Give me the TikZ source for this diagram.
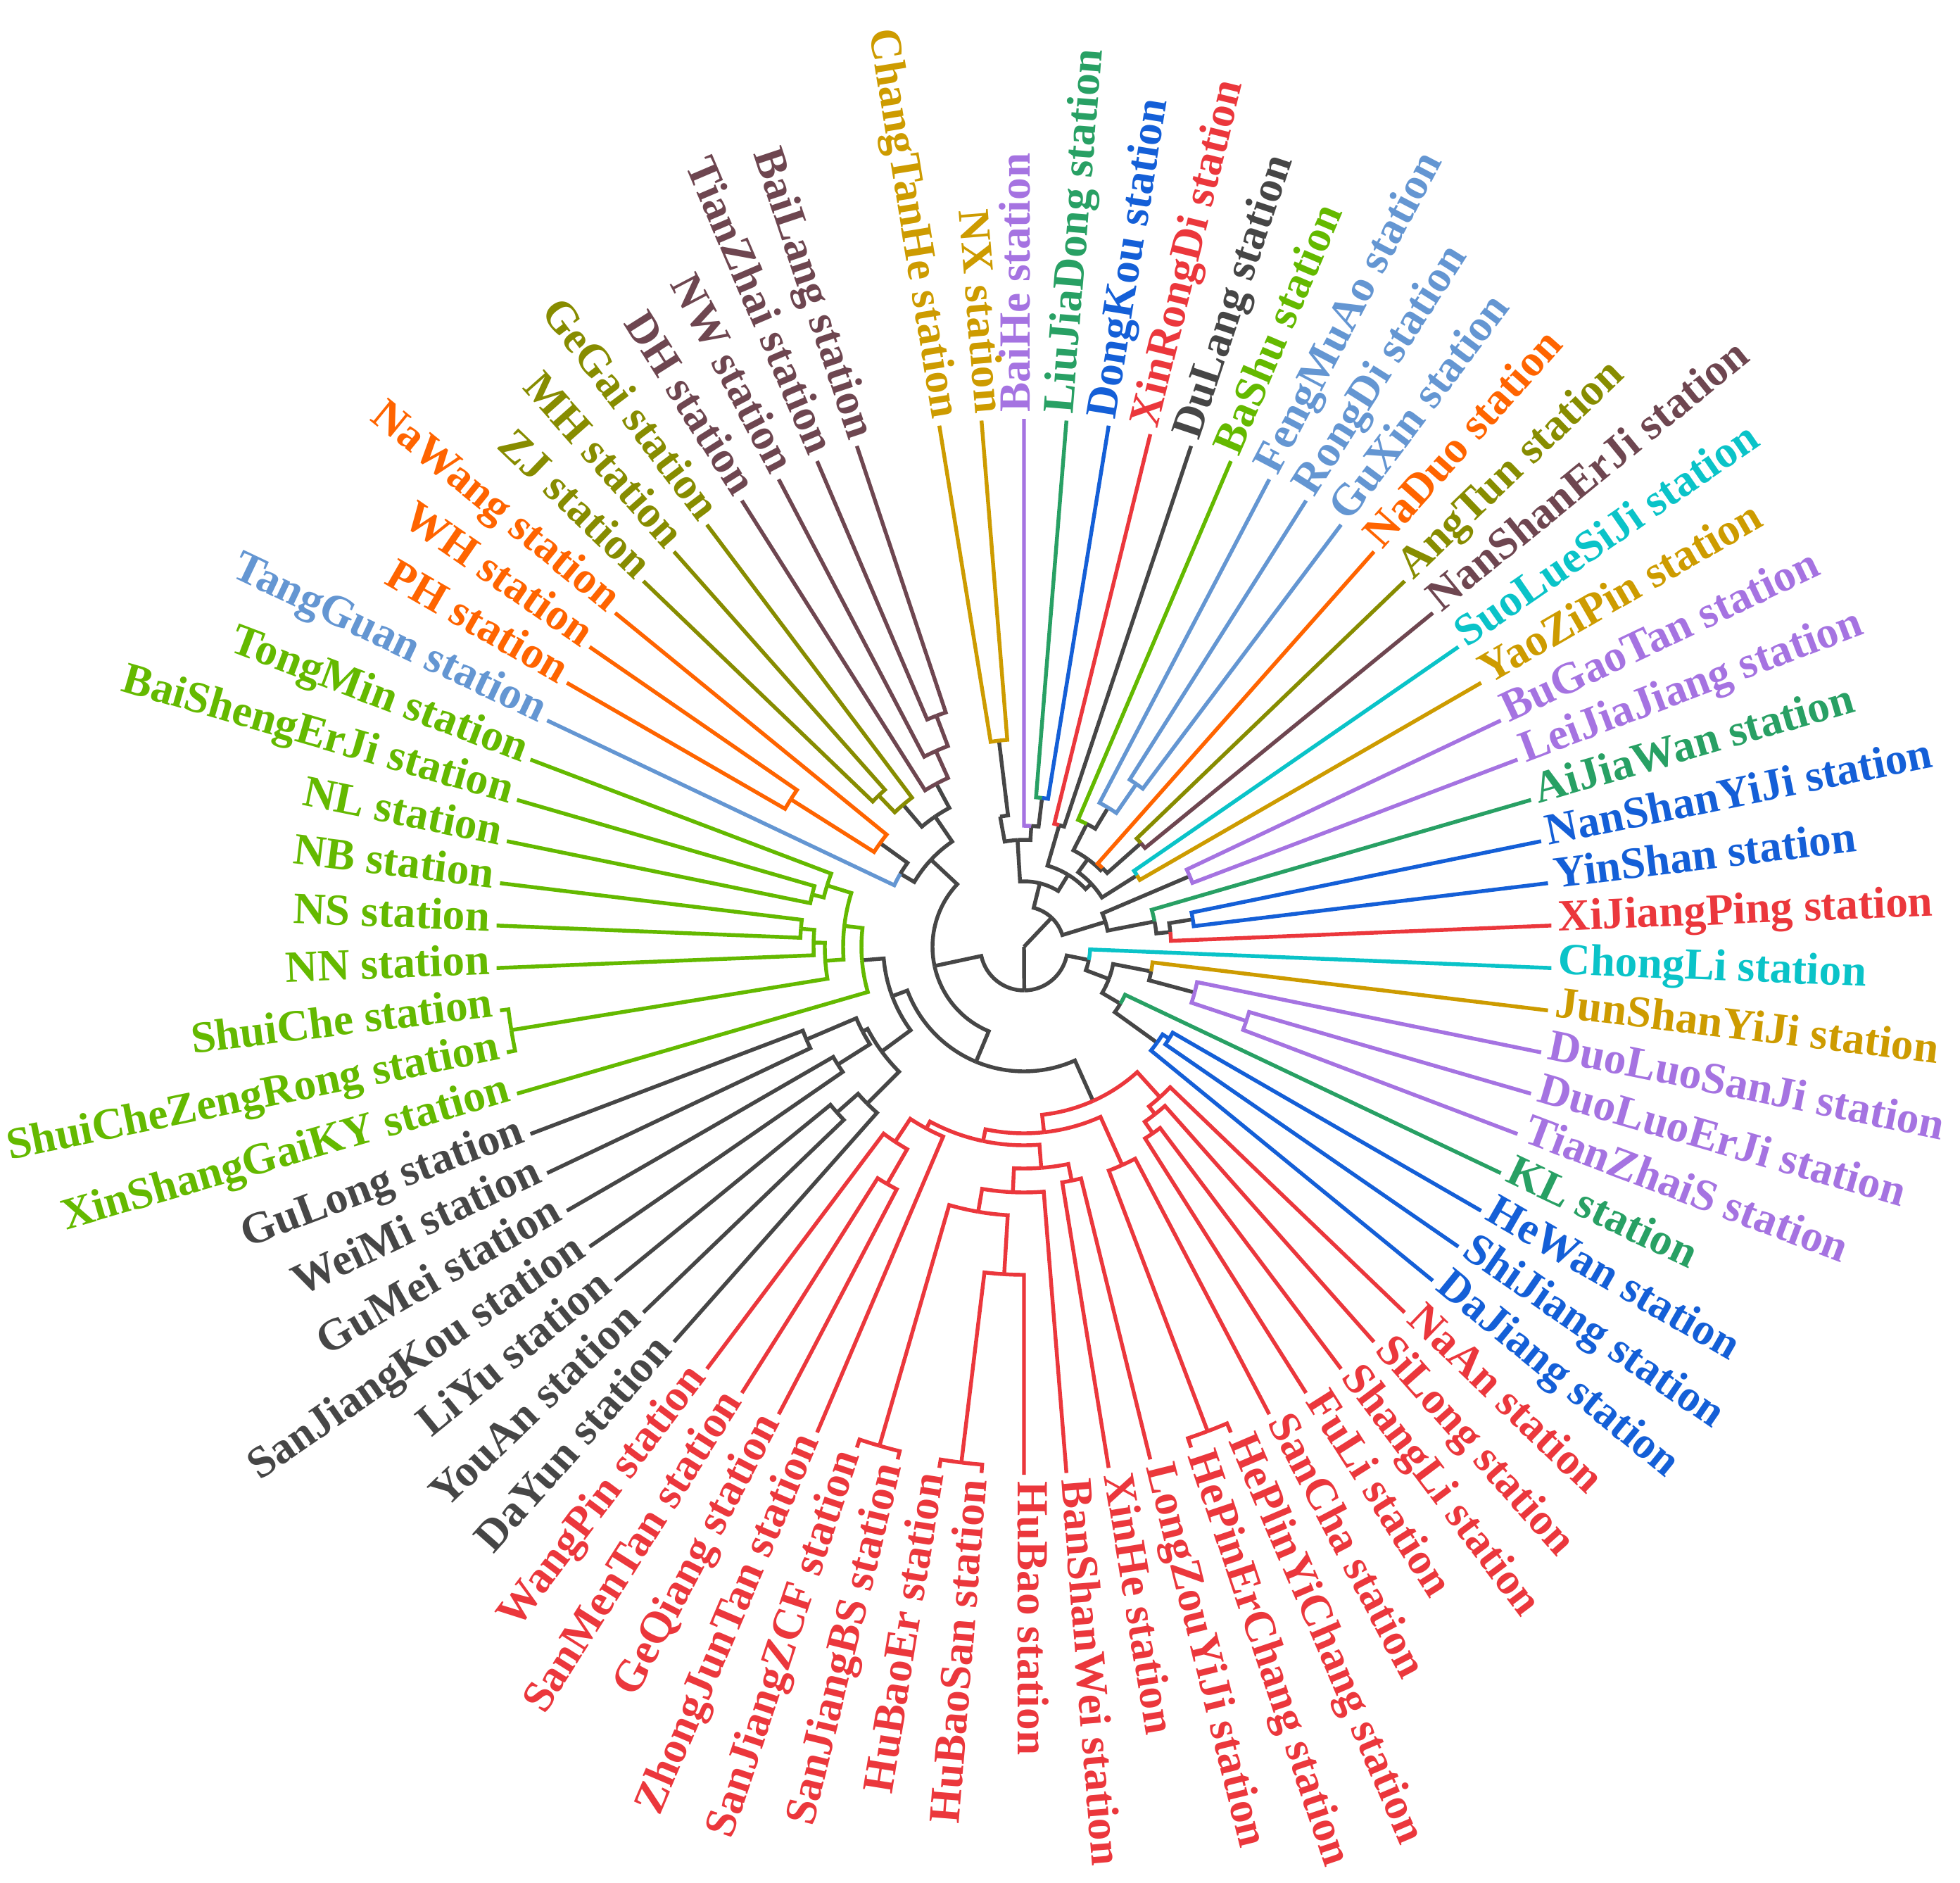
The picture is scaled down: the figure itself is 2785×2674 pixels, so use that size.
\documentclass[tikz,border=0pt]{standalone}
\usepackage{fontspec}
\setmainfont{Liberation Serif}
\definecolor{cg}{RGB}{70,70,70}
\definecolor{cgold}{RGB}{205,155,0}
\definecolor{cpurple}{RGB}{165,115,225}
\definecolor{cgreen}{RGB}{40,160,100}
\definecolor{cblue}{RGB}{20,95,215}
\definecolor{cred}{RGB}{235,55,60}
\definecolor{clime}{RGB}{100,185,0}
\definecolor{clb}{RGB}{100,150,210}
\definecolor{corange}{RGB}{255,100,0}
\definecolor{colive}{RGB}{135,140,0}
\definecolor{cbrown}{RGB}{110,70,80}
\definecolor{ccyan}{RGB}{10,195,200}
\newcommand\LA[2]{\pgfmathsetmacro#1{99.23-(#2-1)*4.61538}}
\newcommand\MA[3]{\pgfmathsetmacro#1{(#2+#3)/2}}
\newcommand\E[5]{\draw[#5] (#1:#2) -- (#1:#4) arc[start angle=#1, end angle=#3, radius=#4];}
\newcommand\lbl[4]{%
  \pgfmathsetmacro\tmpc{cos(#1)}%
  \ifdim\tmpc pt>-0.01pt
    \node[lab,text=#2,anchor=mid west,rotate=#1] (#4) at (#1:757) {#3 station};
  \else
    \pgfmathsetmacro\tmpr{#1+180}%
    \node[lab,text=#2,anchor=mid east,rotate=\tmpr] (#4) at (#1:757) {#3 station};
  \fi}
\begin{document}
\begin{tikzpicture}[x=0.01cm,y=0.01cm,line width=1.55pt,
  lab/.style={font=\bfseries\fontsize{18}{20}\selectfont,inner sep=0pt}]
\useasboundingbox (-1455,-1329) rectangle (1330,1345);
% leaf angles
\LA\lCTH{1}\LA\lNX{2}\LA\lBH{3}\LA\lLJD{4}\LA\lDK{5}\LA\lXRD{6}\LA\lDL{7}\LA\lBS{8}
\LA\lFMA{9}\LA\lRD{10}\LA\lGX{11}\LA\lND{12}\LA\lAT{13}\LA\lNSE{14}\LA\lSL{15}\LA\lYZP{16}
\LA\lBGT{17}\LA\lLJJ{18}\LA\lAJW{19}\LA\lNSY{20}\LA\lYS{21}\LA\lXJP{22}\LA\lCL{23}\LA\lJSY{24}
\LA\lDLS{25}\LA\lDLE{26}\LA\lTZS{27}\LA\lKL{28}\LA\lHW{29}\LA\lSJ{30}\LA\lDJ{31}\LA\lNA{32}
\LA\lSIL{33}\LA\lSHL{34}\LA\lFL{35}\LA\lSC{36}\LA\lHPY{37}\LA\lHPE{38}\LA\lLZ{39}\LA\lXH{40}
\LA\lBSW{41}\LA\lHB{42}\LA\lHBS{43}\LA\lHBE{44}\LA\lSJB{45}\LA\lSJZ{46}\LA\lZJT{47}\LA\lGQ{48}
\LA\lSMT{49}\LA\lWP{50}\LA\lDY{51}\LA\lYA{52}\LA\lLY{53}\LA\lSJK{54}\LA\lGM{55}\LA\lWM{56}
\LA\lGL{57}\LA\lXSG{58}\LA\lSCZ{59}\LA\lSCH{60}\LA\lNN{61}\LA\lNS{62}\LA\lNB{63}\LA\lNL{64}
\LA\lBSE{65}\LA\lTM{66}\LA\lTG{67}\LA\lPH{68}\LA\lWH{69}\LA\lNWa{70}\LA\lZJ{71}\LA\lMH{72}
\LA\lGG{73}\LA\lDH{74}\LA\lNWs{75}\LA\lTZ{76}\LA\lBL{77}\LA\lHid{0}
% internal node angles
\MA\nG\lCTH\lNX \MA\nH\nG\lHid \MA\nLD\lLJD\lDK \MA\nQ\lBH\nLD \MA\nP\nH\nQ
\MA\nXD\lXRD\lDL \MA\nRG\lRD\lGX \MA\nFRG\lFMA\nRG \MA\nBF\lBS\nFRG
\MA\nAN\lAT\lNSE \MA\nNAD\lND\nAN \MA\nYY\nBF\nNAD \MA\nSY\lSL\lYZP
\MA\nZ\nYY\nSY \MA\nBx\nXD\nZ \MA\nBa\nP\nBx
\MA\nPL\lBGT\lLJJ \MA\nNY\lNSY\lYS \MA\nWb\nNY\lXJP \MA\nWa\lAJW\nWb \MA\nBb\nPL\nWa
\MA\nB\nBa\nBb
\MA\nDT\lDLE\lTZS \MA\nDU\lDLS\nDT \MA\nRc\lJSY\nDU \MA\nHS\lHW\lSJ \MA\nRe\nHS\lDJ
\MA\nRd\lKL\nRe \MA\nRb\nRc\nRd \MA\nRa\lCL\nRb
\MA\nNa\lTZ\lBL \MA\nNb\lNWs\nNa \MA\nNc\lDH\nNb \MA\nOa\lZJ\lMH \MA\nOb\nOa\lGG
\MA\nNd\nOb\nNc \MA\nOra\lPH\lWH \MA\nOrb\nOra\lNWa \MA\nT\lTG\nOrb \MA\nNe\nT\nNd
\MA\nBN\lBSE\lNL \MA\nTB\lTM\nBN \MA\nNBS\lNB\lNS \MA\nNBSN\nNBS\lNN \MA\nSS\lSCH\lSCZ
\MA\nNSC\nNBSN\nSS \MA\nLx\nTB\nNSC \MA\nLm\nLx\lXSG
\MA\nGW\lGL\lWM \MA\nGS\lGM\lSJK \MA\nGa\nGW\nGS \MA\nYL\lLY\lYA \MA\nGb\nYL\lDY
\MA\nGR\nGa\nGb \MA\nK\nLm\nGR
\MA\nSG\lSMT\lGQ \MA\nWS\lWP\nSG \MA\nRLaa\nWS\lZJT \MA\nX\lSJZ\lSJB
\MA\nHEHS\lHBE\lHBS \MA\nYh\nHEHS\lHB \MA\nRLd\nX\nYh \MA\nRLc\nRLd\lBSW \MA\nXL\lXH\lLZ \MA\nRLb\nRLc\nXL
\MA\nRLo\nRLaa\nRLb \MA\nHP\lHPE\lHPY \MA\nRLz\nHP\lSC \MA\nRL\nRLo\nRLz
\MA\nSF\lSHL\lFL \MA\nSSF\lSIL\nSF \MA\nRRb\lNA\nSSF \MA\nRR\nRL\nRRb
\MA\nM\nK\nRR \MA\nL\nNe\nM \MA\nA\nL\nRa
% radii
\def\rLeaf{750}
\def\rA{62}\def\rB{57}\def\rBa{93}\def\rP{152}\def\rH{188}\def\rG{295}\def\rQ{172}\def\rLD{213}
\def\rBx{120}\def\rXD{180}\def\rZ{131}\def\rYY{154}\def\rBF{196}\def\rFRG{231}\def\rRG{281}
\def\rNAD{158}\def\rAN{222}\def\rSY{190}\def\rBb{121}\def\rPL{256}\def\rWa{189}\def\rWb{209}\def\rNY{243}
\def\rRa{94}\def\rRb{129}\def\rRc{184}\def\rDU{251}\def\rDT{333}\def\rRd{159}\def\rRe{233}\def\rHS{244}
\def\rL{130}\def\rNe{181}\def\rT{204}\def\rOrb{252}\def\rOra{392}\def\rNd{224}\def\rOb{265}
\def\rOa{298}\def\rNc{263}\def\rNb{305}\def\rNa{351}
\def\rM{177}\def\rK{200}\def\rLm{231}\def\rLx{257}\def\rTB{293}\def\rBN{310}\def\rNSC{283}
\def\rNBSN{299}\def\rNBS{318}\def\rSS{738}
\def\rGR{251}\def\rGa{259}\def\rGW{336}\def\rGS{313}\def\rGb{315}\def\rYL{355}
\def\rRR{240}\def\rRL{265}\def\rRLo{282}\def\rRLaa{293}\def\rWS{332}\def\rSG{389}\def\rRLb{315}
\def\rRLc{349}\def\rRLd{382}\def\rX{738}\def\rHEHS{738}\def\rYh{466}\def\rXL{339}\def\rRLz{340}
\def\rHP{736}\def\rRRb{288}\def\rSSF{302}\def\rSF{322}
% root
\coordinate (root) at (0,0);
\draw[cg] (root) -- (\nA:\rA);
\draw[cg] (root) -- (\nB:\rB);
% B side
\E\nBa\rBa\nB\rB{cg} \E\nBb\rBb\nB\rB{cg}
\E\nP\rP\nBa\rBa{cg} \E\nBx\rBx\nBa\rBa{cg}
\E\nH\rH\nP\rP{cg} \E\nQ\rQ\nP\rP{cg}
\E\nG\rG\nH\rH{cg}
\E\lCTH\rLeaf\nG\rG{cgold} \E\lNX\rLeaf\nG\rG{cgold}
\E\lBH\rLeaf\nQ\rQ{cpurple} \E\nLD\rLD\nQ\rQ{cg}
\E\lLJD\rLeaf\nLD\rLD{cgreen} \E\lDK\rLeaf\nLD\rLD{cblue}
\E\nXD\rXD\nBx\rBx{cg} \E\nZ\rZ\nBx\rBx{cg}
\E\lXRD\rLeaf\nXD\rXD{cred} \E\lDL\rLeaf\nXD\rXD{cg}
\E\nYY\rYY\nZ\rZ{cg} \E\nSY\rSY\nZ\rZ{cg}
\E\nBF\rBF\nYY\rYY{cg} \E\nNAD\rNAD\nYY\rYY{cg}
\E\lBS\rLeaf\nBF\rBF{clime} \E\nFRG\rFRG\nBF\rBF{cg}
\E\lFMA\rLeaf\nFRG\rFRG{clb} \E\nRG\rRG\nFRG\rFRG{clb}
\E\lRD\rLeaf\nRG\rRG{clb} \E\lGX\rLeaf\nRG\rRG{clb}
\E\lND\rLeaf\nNAD\rNAD{corange} \E\nAN\rAN\nNAD\rNAD{cg}
\E\lAT\rLeaf\nAN\rAN{colive} \E\lNSE\rLeaf\nAN\rAN{cbrown}
\E\lSL\rLeaf\nSY\rSY{ccyan} \E\lYZP\rLeaf\nSY\rSY{cgold}
\E\nPL\rPL\nBb\rBb{cg} \E\nWa\rWa\nBb\rBb{cg}
\E\lBGT\rLeaf\nPL\rPL{cpurple} \E\lLJJ\rLeaf\nPL\rPL{cpurple}
\E\lAJW\rLeaf\nWa\rWa{cgreen} \E\nWb\rWb\nWa\rWa{cg}
\E\nNY\rNY\nWb\rWb{cg} \E\lXJP\rLeaf\nWb\rWb{cred}
\E\lNSY\rLeaf\nNY\rNY{cblue} \E\lYS\rLeaf\nNY\rNY{cblue}
% A side, right
\E\nL\rL\nA\rA{cg} \E\nRa\rRa\nA\rA{cg}
\E\lCL\rLeaf\nRa\rRa{ccyan} \E\nRb\rRb\nRa\rRa{cg}
\E\nRc\rRc\nRb\rRb{cg} \E\nRd\rRd\nRb\rRb{cg}
\E\lJSY\rLeaf\nRc\rRc{cgold} \E\nDU\rDU\nRc\rRc{cg}
\E\lDLS\rLeaf\nDU\rDU{cpurple} \E\nDT\rDT\nDU\rDU{cpurple}
\E\lDLE\rLeaf\nDT\rDT{cpurple} \E\lTZS\rLeaf\nDT\rDT{cpurple}
\E\lKL\rLeaf\nRd\rRd{cgreen} \E\nRe\rRe\nRd\rRd{cg}
\E\nHS\rHS\nRe\rRe{cblue} \E\lDJ\rLeaf\nRe\rRe{cblue}
\E\lHW\rLeaf\nHS\rHS{cblue} \E\lSJ\rLeaf\nHS\rHS{cblue}
% A side, left
\E\nNe\rNe\nL\rL{cg} \E\nM\rM\nL\rL{cg}
\E\nT\rT\nNe\rNe{cg} \E\nNd\rNd\nNe\rNe{cg}
\E\lTG\rLeaf\nT\rT{clb} \E\nOrb\rOrb\nT\rT{cg}
\E\nOra\rOra\nOrb\rOrb{corange} \E\lNWa\rLeaf\nOrb\rOrb{corange}
\E\lPH\rLeaf\nOra\rOra{corange} \E\lWH\rLeaf\nOra\rOra{corange}
\E\nOb\rOb\nNd\rNd{cg} \E\nNc\rNc\nNd\rNd{cg}
\E\nOa\rOa\nOb\rOb{colive} \E\lGG\rLeaf\nOb\rOb{colive}
\E\lZJ\rLeaf\nOa\rOa{colive} \E\lMH\rLeaf\nOa\rOa{colive}
\E\lDH\rLeaf\nNc\rNc{cbrown} \E\nNb\rNb\nNc\rNc{cbrown}
\E\lNWs\rLeaf\nNb\rNb{cbrown} \E\nNa\rNa\nNb\rNb{cbrown}
\E\lTZ\rLeaf\nNa\rNa{cbrown} \E\lBL\rLeaf\nNa\rNa{cbrown}
\E\nK\rK\nM\rM{cg} \E\nRR\rRR\nM\rM{cg}
\E\nLm\rLm\nK\rK{cg} \E\nGR\rGR\nK\rK{cg}
\E\nLx\rLx\nLm\rLm{clime} \E\lXSG\rLeaf\nLm\rLm{clime}
\E\nTB\rTB\nLx\rLx{clime} \E\nNSC\rNSC\nLx\rLx{clime}
\E\lTM\rLeaf\nTB\rTB{clime} \E\nBN\rBN\nTB\rTB{clime}
\E\lBSE\rLeaf\nBN\rBN{clime} \E\lNL\rLeaf\nBN\rBN{clime}
\E\nNBSN\rNBSN\nNSC\rNSC{clime} \E\nSS\rSS\nNSC\rNSC{clime}
\E\nNBS\rNBS\nNBSN\rNBSN{clime} \E\lNN\rLeaf\nNBSN\rNBSN{clime}
\E\lNB\rLeaf\nNBS\rNBS{clime} \E\lNS\rLeaf\nNBS\rNBS{clime}
\E\lSCH\rLeaf\nSS\rSS{clime} \E\lSCZ\rLeaf\nSS\rSS{clime}
\E\nGa\rGa\nGR\rGR{cg} \E\nGb\rGb\nGR\rGR{cg}
\E\nGW\rGW\nGa\rGa{cg} \E\nGS\rGS\nGa\rGa{cg}
\E\lGL\rLeaf\nGW\rGW{cg} \E\lWM\rLeaf\nGW\rGW{cg}
\E\lGM\rLeaf\nGS\rGS{cg} \E\lSJK\rLeaf\nGS\rGS{cg}
\E\nYL\rYL\nGb\rGb{cg} \E\lDY\rLeaf\nGb\rGb{cg}
\E\lLY\rLeaf\nYL\rYL{cg} \E\lYA\rLeaf\nYL\rYL{cg}
% red cluster
\E\nRL\rRL\nRR\rRR{cred} \E\nRRb\rRRb\nRR\rRR{cred}
\E\nRLo\rRLo\nRL\rRL{cred} \E\nRLz\rRLz\nRL\rRL{cred}
\E\nRLaa\rRLaa\nRLo\rRLo{cred} \E\nRLb\rRLb\nRLo\rRLo{cred}
\E\nWS\rWS\nRLaa\rRLaa{cred} \E\lZJT\rLeaf\nRLaa\rRLaa{cred}
\E\lWP\rLeaf\nWS\rWS{cred} \E\nSG\rSG\nWS\rWS{cred}
\E\lSMT\rLeaf\nSG\rSG{cred} \E\lGQ\rLeaf\nSG\rSG{cred}
\E\nRLc\rRLc\nRLb\rRLb{cred} \E\nXL\rXL\nRLb\rRLb{cred}
\E\nRLd\rRLd\nRLc\rRLc{cred} \E\lBSW\rLeaf\nRLc\rRLc{cred}
\E\nX\rX\nRLd\rRLd{cred} \E\nYh\rYh\nRLd\rRLd{cred}
\E\lSJZ\rLeaf\nX\rX{cred} \E\lSJB\rLeaf\nX\rX{cred}
\E\nHEHS\rHEHS\nYh\rYh{cred} \E\lHB\rLeaf\nYh\rYh{cred}
\E\lHBE\rLeaf\nHEHS\rHEHS{cred} \E\lHBS\rLeaf\nHEHS\rHEHS{cred}
\E\lXH\rLeaf\nXL\rXL{cred} \E\lLZ\rLeaf\nXL\rXL{cred}
\E\nHP\rHP\nRLz\rRLz{cred} \E\lSC\rLeaf\nRLz\rRLz{cred}
\E\lHPE\rLeaf\nHP\rHP{cred} \E\lHPY\rLeaf\nHP\rHP{cred}
\E\lNA\rLeaf\nRRb\rRRb{cred} \E\nSSF\rSSF\nRRb\rRRb{cred}
\E\lSIL\rLeaf\nSSF\rSSF{cred} \E\nSF\rSF\nSSF\rSSF{cred}
\E\lSHL\rLeaf\nSF\rSF{cred} \E\lFL\rLeaf\nSF\rSF{cred}
% labels
\lbl\lCTH{cgold}{ChangTanHe}{t1}\lbl\lNX{cgold}{NX}{t2}\lbl\lBH{cpurple}{BaiHe}{t3}
\lbl\lLJD{cgreen}{LiuJiaDong}{t4}\lbl\lDK{cblue}{DongKou}{t5}\lbl\lXRD{cred}{XinRongDi}{t6}
\lbl\lDL{cg}{DuLang}{t7}\lbl\lBS{clime}{BaShu}{t8}\lbl\lFMA{clb}{FengMuAo}{t9}
\lbl\lRD{clb}{RongDi}{t10}\lbl\lGX{clb}{GuXin}{t11}\lbl\lND{corange}{NaDuo}{t12}
\lbl\lAT{colive}{AngTun}{t13}\lbl\lNSE{cbrown}{NanShanErJi}{t14}\lbl\lSL{ccyan}{SuoLueSiJi}{t15}
\lbl\lYZP{cgold}{YaoZiPin}{t16}\lbl\lBGT{cpurple}{BuGaoTan}{t17}\lbl\lLJJ{cpurple}{LeiJiaJiang}{t18}
\lbl\lAJW{cgreen}{AiJiaWan}{t19}\lbl\lNSY{cblue}{NanShanYiJi}{t20}\lbl\lYS{cblue}{YinShan}{t21}
\lbl\lXJP{cred}{XiJiangPing}{t22}\lbl\lCL{ccyan}{ChongLi}{t23}\lbl\lJSY{cgold}{JunShanYiJi}{t24}
\lbl\lDLS{cpurple}{DuoLuoSanJi}{t25}\lbl\lDLE{cpurple}{DuoLuoErJi}{t26}\lbl\lTZS{cpurple}{TianZhaiS}{t27}
\lbl\lKL{cgreen}{KL}{t28}\lbl\lHW{cblue}{HeWan}{t29}\lbl\lSJ{cblue}{ShiJiang}{t30}
\lbl\lDJ{cblue}{DaJiang}{t31}\lbl\lNA{cred}{NaAn}{t32}\lbl\lSIL{cred}{SiLong}{t33}
\lbl\lSHL{cred}{ShangLi}{t34}\lbl\lFL{cred}{FuLi}{t35}\lbl\lSC{cred}{SanCha}{t36}
\lbl\lHPY{cred}{HePlinYiChang}{t37}\lbl\lHPE{cred}{HePinErChang}{t38}\lbl\lLZ{cred}{LongZouYiJi}{t39}
\lbl\lXH{cred}{XinHe}{t40}\lbl\lBSW{cred}{BanShanWei}{t41}\lbl\lHB{cred}{HuBao}{t42}
\lbl\lHBS{cred}{HuBaoSan}{t43}\lbl\lHBE{cred}{HuBaoEr}{t44}\lbl\lSJB{cred}{SanJiangBS}{t45}
\lbl\lSJZ{cred}{SanJiangZCF}{t46}\lbl\lZJT{cred}{ZhongJunTan}{t47}\lbl\lGQ{cred}{GeQiang}{t48}
\lbl\lSMT{cred}{SanMenTan}{t49}\lbl\lWP{cred}{WangPin}{t50}\lbl\lDY{cg}{DaYun}{t51}
\lbl\lYA{cg}{YouAn}{t52}\lbl\lLY{cg}{LiYu}{t53}\lbl\lSJK{cg}{SanJiangKou}{t54}
\lbl\lGM{cg}{GuMei}{t55}\lbl\lWM{cg}{WeiMi}{t56}\lbl\lGL{cg}{GuLong}{t57}
\lbl\lXSG{clime}{XinShangGaiKY}{t58}\lbl\lSCZ{clime}{ShuiCheZengRong}{t59}\lbl\lSCH{clime}{ShuiChe}{t60}
\lbl\lNN{clime}{NN}{t61}\lbl\lNS{clime}{NS}{t62}\lbl\lNB{clime}{NB}{t63}
\lbl\lNL{clime}{NL}{t64}\lbl\lBSE{clime}{BaiShengErJi}{t65}\lbl\lTM{clime}{TongMin}{t66}
\lbl\lTG{clb}{TangGuan}{t67}\lbl\lPH{corange}{PH}{t68}\lbl\lWH{corange}{WH}{t69}
\lbl\lNWa{corange}{NaWang}{t70}\lbl\lZJ{colive}{ZJ}{t71}\lbl\lMH{colive}{MH}{t72}
\lbl\lGG{colive}{GeGai}{t73}\lbl\lDH{cbrown}{DH}{t74}\lbl\lNWs{cbrown}{NW}{t75}
\lbl\lTZ{cbrown}{TianZhai}{t76}\lbl\lBL{cbrown}{BaiLang}{t77}
\end{tikzpicture}
\end{document}
